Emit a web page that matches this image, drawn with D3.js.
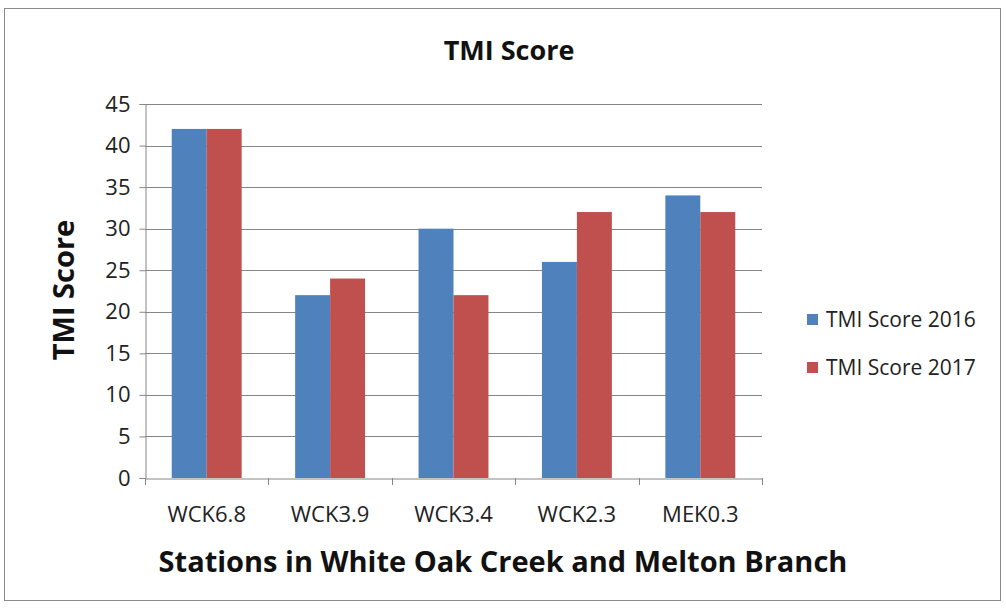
<!DOCTYPE html>
<html><head><meta charset="utf-8">
<script src="https://cdn.jsdelivr.net/npm/d3@7"></script>
<style>body{margin:0;background:#fff}</style>
</head><body>
<svg id="c" width="1006" height="609"></svg>
<script>
const categories = ["WCK6.8","WCK3.9","WCK3.4","WCK2.3","MEK0.3"];
const seriesNames = ["TMI Score 2016","TMI Score 2017"];
const score2016 = [42,22,30,26,34];
const score2017 = [42,24,22,32,32];
const yTicks = [0,5,10,15,20,25,30,35,40,45];
const colors = ["#4F81BD","#C0504D"];

(function(){
const font = "'Open Sans', sans-serif";
const svg = d3.select("#c");
svg.append("rect").attr("x",4.5).attr("y",8.5).attr("width",996).attr("height",592)
  .attr("fill","#fff").attr("stroke","#8a8a8a").attr("stroke-width",1);

const pl=145, pr=762, pt=104, pb=478;
const x = d3.scaleBand().domain(categories).range([pl,pr]).paddingInner(0).paddingOuter(0);
const x1 = d3.scaleBand().domain(seriesNames).range([0,x.bandwidth()]).paddingInner(0).paddingOuter(0.765);
const y = d3.scaleLinear().domain([0,45]).range([pb,pt]);

svg.append("g").selectAll("line").data(yTicks.filter(d=>d>0)).join("line")
  .attr("x1",pl).attr("x2",pr).attr("y1",d=>Math.round(y(d))+0.5).attr("y2",d=>Math.round(y(d))+0.5)
  .attr("stroke","#868686").attr("stroke-width",1);

const data = categories.map((c,i)=>({c, vals:[score2016[i],score2017[i]]}));
const g = svg.append("g").selectAll("g").data(data).join("g").attr("transform",d=>`translate(${x(d.c)},0)`);
g.selectAll("rect").data(d=>d.vals.map((v,j)=>({v,s:seriesNames[j],j}))).join("rect")
  .attr("x",d=>x1(d.s)).attr("width",x1.bandwidth())
  .attr("y",d=>y(d.v)).attr("height",d=>y(0)-y(d.v)).attr("fill",d=>colors[d.j]);

const ya = d3.axisLeft(y).tickValues(yTicks).tickSize(6).tickPadding(9);
const yg = svg.append("g").attr("transform",`translate(${pl+0.5},0)`).call(ya);
yg.select(".domain").attr("stroke","#868686");
yg.selectAll(".tick line").attr("stroke","#868686");
yg.selectAll("text").attr("font-family",font).attr("font-size",22).attr("fill","#222");

const xa = d3.axisBottom(x).tickSize(0).tickPadding(28);
const xg = svg.append("g").attr("transform",`translate(0,${pb+0.5})`).call(xa);
xg.select(".domain").attr("stroke","#868686");
xg.selectAll("text").attr("font-family",font).attr("font-size",22).attr("fill","#222");
svg.append("g").selectAll("line").data(d3.range(categories.length+1)).join("line")
  .attr("x1",i=>Math.round(pl+i*x.bandwidth())+0.5).attr("x2",i=>Math.round(pl+i*x.bandwidth())+0.5)
  .attr("y1",pb).attr("y2",pb+7).attr("stroke","#868686");

svg.append("text").attr("x",509).attr("y",60).attr("text-anchor","middle")
  .attr("font-family",font).attr("font-weight","bold").attr("font-size",27).attr("fill","#111").text("TMI Score");
svg.append("text").attr("transform","translate(74,290) rotate(-90)").attr("text-anchor","middle")
  .attr("font-family",font).attr("font-weight","bold").attr("font-size",29).attr("fill","#111").text("TMI Score");
svg.append("text").attr("x",503).attr("y",572).attr("text-anchor","middle")
  .attr("font-family",font).attr("font-weight","bold").attr("font-size",29).attr("fill","#111")
  .text("Stations in White Oak Creek and Melton Branch");

const lg = svg.append("g").selectAll("g").data(seriesNames).join("g")
  .attr("transform",(d,i)=>`translate(807,${314+i*48})`);
lg.append("rect").attr("width",11).attr("height",11).attr("fill",(d,i)=>colors[i]);
lg.append("text").attr("x",19).attr("y",13).attr("font-family",font).attr("font-size",21).attr("fill","#222").text(d=>d);
})();
</script>
</body></html>
